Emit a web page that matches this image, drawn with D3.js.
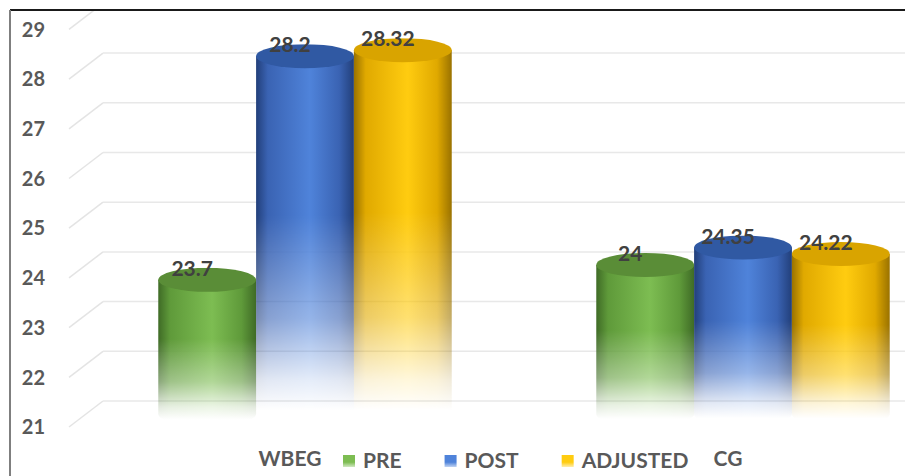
<!DOCTYPE html>
<html><head><meta charset="utf-8">
<script src="https://cdn.jsdelivr.net/npm/d3@7"></script>
<style>html,body{margin:0;padding:0;background:#fff;}svg{display:block;font-family:Lato,"Open Sans",sans-serif;}</style>
</head><body>
<script>
const categories = ["WBEG", "CG"];
const seriesNames = ["PRE", "POST", "ADJUSTED"];
const PRE = [23.7, 24];
const POST = [28.2, 24.35];
const ADJUSTED = [28.32, 24.22];
const seriesValues = [PRE, POST, ADJUSTED];
const valueLabels = [["23.7", "24"], ["28.2", "24.35"], ["28.32", "24.22"]];
const yTicks = [21, 22, 23, 24, 25, 26, 27, 28, 29];

const W = 905, H = 476;
const palette = {
  PRE: {dark: "#3f6b26", mid: "#5f9a3a", light: "#7dbd52", top: "#5a8d37"},
  POST: {dark: "#223f7a", mid: "#3a63b3", light: "#4f83da", top: "#3059a3"},
  ADJUSTED: {dark: "#9a7200", mid: "#e0a900", light: "#ffcc10", top: "#d9a400"}
};

const svg = d3.select("body").append("svg").attr("width", W).attr("height", H);
const defs = svg.append("defs");

const DX = 34, DY = 26;
const yBack = d3.scaleLinear().domain([21, 29]).range([401, 3.4]);
const cy = v => yBack(v) + DY / 2;

const x0 = d3.scaleBand().domain(categories).range([86, 962]).paddingInner(0.33).paddingOuter(0.165);
const x1 = d3.scaleBand().domain(seriesNames).range([0, x0.bandwidth()]);

defs.append("clipPath").attr("id", "plotclip").append("rect")
  .attr("x", 11).attr("y", 11).attr("width", W).attr("height", H);

const plot = svg.append("g").attr("clip-path", "url(#plotclip)");

const grid = plot.append("g");
yTicks.forEach(t => {
  grid.append("line").attr("x1", 103 - DX).attr("y1", yBack(t) + DY)
    .attr("x2", 103).attr("y2", yBack(t)).attr("stroke", "#e4e4e4").attr("stroke-width", 1.5);
  grid.append("line").attr("x1", 103).attr("y1", yBack(t))
    .attr("x2", W).attr("y2", yBack(t)).attr("stroke", "#e8e8e8").attr("stroke-width", 1.5);
});

seriesNames.forEach(s => {
  const p = palette[s];
  const g = defs.append("linearGradient").attr("id", "side-" + s)
    .attr("x1", "0").attr("x2", "1").attr("y1", "0").attr("y2", "0");
  [[0, p.dark], [0.12, p.mid], [0.55, p.light], [0.85, p.mid], [1, p.dark]].forEach(([o, c]) =>
    g.append("stop").attr("offset", o).attr("stop-color", c));
  const lg = defs.append("linearGradient").attr("id", "leg-" + s)
    .attr("x1", "0").attr("x2", "0").attr("y1", "0").attr("y2", "1");
  lg.append("stop").attr("offset", 0).attr("stop-color", p.light);
  lg.append("stop").attr("offset", 0.6).attr("stop-color", p.light);
  lg.append("stop").attr("offset", 1).attr("stop-color", p.light).attr("stop-opacity", 0.35);
});
const fade = defs.append("linearGradient").attr("id", "fade")
  .attr("x1", "0").attr("x2", "0").attr("y1", "0").attr("y2", "1");
[[0, 1], [0.45, 1], [0.72, 0.6], [0.88, 0.15], [0.96, 0]].forEach(([o, a]) =>
  fade.append("stop").attr("offset", o).attr("stop-color", "#fff").attr("stop-opacity", a));

const rx = x1.bandwidth() / 2, ry = 12;
const yBottom = cy(21);

const bars = plot.append("g");
const labels = svg.append("g");
categories.forEach((c, ci) => {
  seriesNames.forEach((s, si) => {
    const v = seriesValues[si][ci];
    const xl = x0(c) + x1(s), xr = xl + x1.bandwidth(), xc = (xl + xr) / 2;
    const yt = cy(v);
    const id = "m-" + ci + "-" + si;
    const m = defs.append("mask").attr("id", id).attr("maskUnits", "userSpaceOnUse")
      .attr("x", xl - 2).attr("y", yt - ry - 2).attr("width", xr - xl + 4).attr("height", yBottom + ry - yt + ry + 4);
    m.append("rect").attr("x", xl - 2).attr("y", yt - ry).attr("width", xr - xl + 4)
      .attr("height", yBottom + ry - (yt - ry)).attr("fill", "url(#fade)");
    const g = bars.append("g").attr("mask", "url(#" + id + ")");
    g.append("path")
      .attr("d", `M${xl},${yt} L${xl},${yBottom} A${rx},${ry} 0 0 0 ${xr},${yBottom} L${xr},${yt} Z`)
      .attr("fill", `url(#side-${s})`);
    g.append("ellipse").attr("cx", xc).attr("cy", yt).attr("rx", rx).attr("ry", ry)
      .attr("fill", palette[s].top);
    labels.append("text").attr("x", xc - 15).attr("y", yt - 4)
      .attr("text-anchor", "middle").attr("font-size", 21).attr("font-weight", "bold")
      .attr("fill", "#404040").text(valueLabels[si][ci]);
  });
});

const yAxisG = svg.append("g");
yTicks.forEach(t => {
  yAxisG.append("text").attr("x", 45).attr("y", yBack(t) + DY)
    .attr("dy", "0.36em").attr("text-anchor", "end").attr("font-size", 20)
    .attr("font-weight", "bold").attr("fill", "#595959").text(t);
});

categories.forEach(c => {
  svg.append("text").attr("x", x0(c) + x0.bandwidth() / 2 - 15).attr("y", 466)
    .attr("text-anchor", "middle").attr("font-size", 21).attr("font-weight", "bold")
    .attr("fill", "#595959").text(c);
});

const legend = svg.append("g");
let lx = 343;
seriesNames.forEach(s => {
  legend.append("rect").attr("x", lx).attr("y", 455).attr("width", 12).attr("height", 12)
    .attr("fill", `url(#leg-${s})`);
  const t = legend.append("text").attr("x", lx + 20).attr("y", 468)
    .attr("font-size", 21).attr("font-weight", "bold").attr("fill", "#595959").text(s);
  lx += 20 + t.node().getComputedTextLength() + 43;
});

svg.append("line").attr("x1", 10).attr("y1", 10).attr("x2", W).attr("y2", 10)
  .attr("stroke", "#1a1a1a").attr("stroke-width", 2);
svg.append("line").attr("x1", 10).attr("y1", 10).attr("x2", 10).attr("y2", H)
  .attr("stroke", "#7f7f7f").attr("stroke-width", 2);
</script>
</body></html>
